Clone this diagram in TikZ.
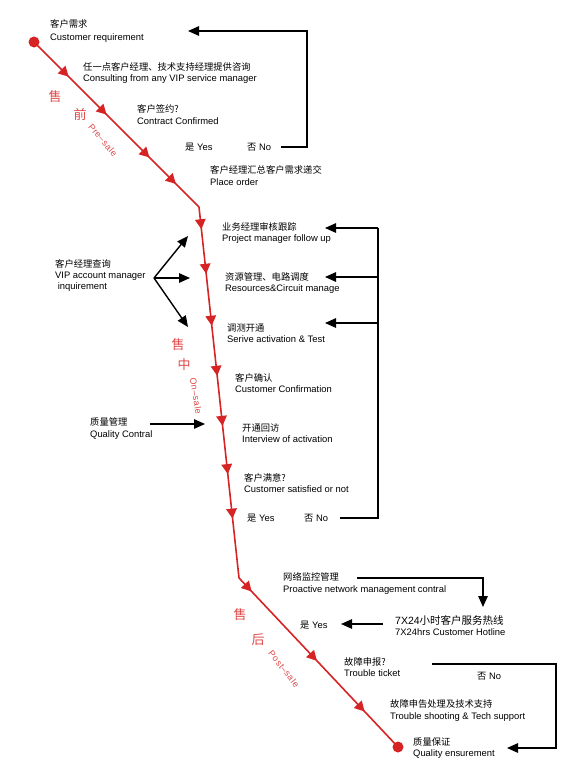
\documentclass[tikz,border=0pt]{standalone}
\usepackage{fontspec}
\setmainfont{Liberation Sans}
\newfontfamily\cjk{Noto Sans CJK SC}
\newfontfamily\phasefont[LetterSpace=6]{Liberation Sans}
\usetikzlibrary{arrows.meta, decorations.markings}
\definecolor{flowred}{RGB}{214,36,36}
\definecolor{phasered}{RGB}{224,72,72}
\newcommand{\redtip}{\arrow{Triangle[length=10pt,width=10.5pt]}}
\newcommand{\zh}[1]{{\cjk\fontsize{9.3}{10.5}\selectfont #1}}

\begin{document}
\begin{tikzpicture}[
  x=1pt, y=-1pt,
  font=\fontsize{9.4}{11.2}\selectfont,
  lbl/.style={anchor=west,align=left,inner sep=0pt},
  flow/.style={draw,color=flowred,line width=1.6pt},
  blk/.style={draw=black,line width=1.4pt},
  arr/.style={blk,-{Triangle[length=11pt,width=9.5pt]}},
  dot/.style={circle,fill=flowred,inner sep=0pt,minimum size=11pt},
  phase/.style={text=phasered,font=\cjk\fontsize{13}{13}\selectfont},
  phasetxt/.style={text=phasered,inner sep=0pt,font=\phasefont\fontsize{9}{9}\selectfont}
]
\useasboundingbox (0,0) rectangle (584,771);

% red flow line
\node[dot] (start) at (34,42) {};
\node[dot] (finish) at (398,747) {};
\coordinate (k1) at (199,207);
\coordinate (k2) at (239,578);

\draw[flow,postaction={decorate,decoration={markings,
    mark=at position 0.21 with {\redtip}, mark=at position 0.44 with {\redtip},
    mark=at position 0.70 with {\redtip}, mark=at position 0.86 with {\redtip}}}]
  (start.center) -- (k1);
\draw[flow,postaction={decorate,decoration={markings,
    mark=at position 0.06 with {\redtip}, mark=at position 0.18 with {\redtip},
    mark=at position 0.32 with {\redtip}, mark=at position 0.455 with {\redtip},
    mark=at position 0.59 with {\redtip}, mark=at position 0.72 with {\redtip},
    mark=at position 0.84 with {\redtip}}}]
  (k1) -- (k2);
\draw[flow,postaction={decorate,decoration={markings,
    mark=at position 0.08 with {\redtip}, mark=at position 0.49 with {\redtip},
    mark=at position 0.79 with {\redtip}}}]
  (k2) -- (finish.center);

% phase labels
\node[phase] (pre1) at (55,97) {售};
\node[phase] (pre2) at (80,115) {前};
\node[phasetxt,rotate=-50] (pre3) at (103,140) {Pre–sale};
\node[phase] (on1) at (178,345) {售};
\node[phase] (on2) at (184,365) {中};
\node[phasetxt,rotate=-81] (on3) at (196,396) {On–sale};
\node[phase] (post1) at (240,615) {售};
\node[phase] (post2) at (258,640) {后};
\node[phasetxt,rotate=-52] (post3) at (284,669) {Post–sale};

% pre-sale
\node[lbl] (req) at (50,31) {\zh{客户需求}\\[2pt]Customer requirement};
\node[lbl] (consult) at (83,73) {\zh{任一点客户经理、技术支持经理提供咨询}\\Consulting from any VIP service manager};
\node[lbl] (contract) at (137,114.5) {\zh{客户签约?}\\Contract Confirmed};
\node[lbl] (preyes) at (185,147) {\zh{是} Yes};
\node[lbl] (preno) at (247,147) {\zh{否} No};
\node[lbl] (order) at (210,175.5) {\zh{客户经理汇总客户需求递交}\\Place order};

\coordinate (fbtop) at (307,31);
\coordinate (reqin) at (188,31);
\draw[arr] ([xshift=10pt]preno.east) -| (fbtop) -- (reqin);

% on-sale
\node[lbl] (pm) at (222,233) {\zh{业务经理审核跟踪}\\Project manager follow up};
\node[lbl] (res) at (225,283) {\zh{资源管理、电路调度}\\Resources\&Circuit manage};
\node[lbl] (act) at (227,333) {\zh{调测开通}\\Serive activation \& Test};
\node[lbl] (conf) at (235,383) {\zh{客户确认}\\Customer Confirmation};
\node[lbl] (intv) at (242,433) {\zh{开通回访}\\Interview of activation};
\node[lbl] (satis) at (244,483) {\zh{客户满意?}\\Customer satisfied or not};
\node[lbl] (onyes) at (247,518) {\zh{是} Yes};
\node[lbl] (onno) at (304,518) {\zh{否} No};
\node[lbl] (vip) at (55,275.5) {\zh{客户经理查询}\\VIP account manager\\\ inquirement};
\node[lbl] (qc) at (90,428.5) {\zh{质量管理}\\Quality Contral};

\coordinate (fbright) at (378,228);
\coordinate (pmin) at (325,228);
\coordinate (resin) at (325,277);
\coordinate (actin) at (325,323);
\draw[blk] ([xshift=12pt]onno.east) -| (fbright);
\draw[arr] (fbright) -- (pmin);
\draw[arr] (fbright |- resin) -- (resin);
\draw[arr] (fbright |- actin) -- (actin);

\coordinate (vipout) at (154,278);
\coordinate (vipup) at (188,236);
\coordinate (vipmid) at (190,278);
\coordinate (vipdown) at (188,327);
\draw[arr] (vipout) -- (vipup);
\draw[arr] (vipout) -- (vipmid);
\draw[arr] (vipout) -- (vipdown);

\coordinate (qcout) at (150,424);
\coordinate (qcin) at (205,424);
\draw[arr] (qcout) -- (qcin);

% post-sale
\node[lbl] (nms) at (283,583.5) {\zh{网络监控管理}\\Proactive network management contral};
\node[lbl] (hotline) at (395,625.5) {{\fontsize{10.5}{10.5}\selectfont 7X24}{\cjk\fontsize{10.5}{10.5}\selectfont 小时客户服务热线}\\7X24hrs Customer Hotline};
\node[lbl] (postyes) at (300,625) {\zh{是} Yes};
\node[lbl] (ticket) at (344,667) {\zh{故障申报?}\\Trouble ticket};
\node[lbl] (postno) at (477,676) {\zh{否} No};
\node[lbl] (shoot) at (390,710.5) {\zh{故障申告处理及技术支持}\\Trouble shooting \& Tech support};
\node[lbl] (qe) at (413,748) {\zh{质量保证}\\Quality ensurement};

\coordinate (nmsout) at (357,578);
\coordinate (hotin) at (483,607);
\draw[arr] (nmsout) -| (hotin);
\coordinate (hotout) at (383,624);
\coordinate (yesin) at (341,624);
\draw[arr] (hotout) -- (yesin);
\coordinate (ticketout) at (432,664);
\coordinate (fbpost) at (556,748);
\coordinate (qein) at (507,748);
\draw[arr] (ticketout) -| (fbpost) -- (qein);
\end{tikzpicture}
\end{document}
